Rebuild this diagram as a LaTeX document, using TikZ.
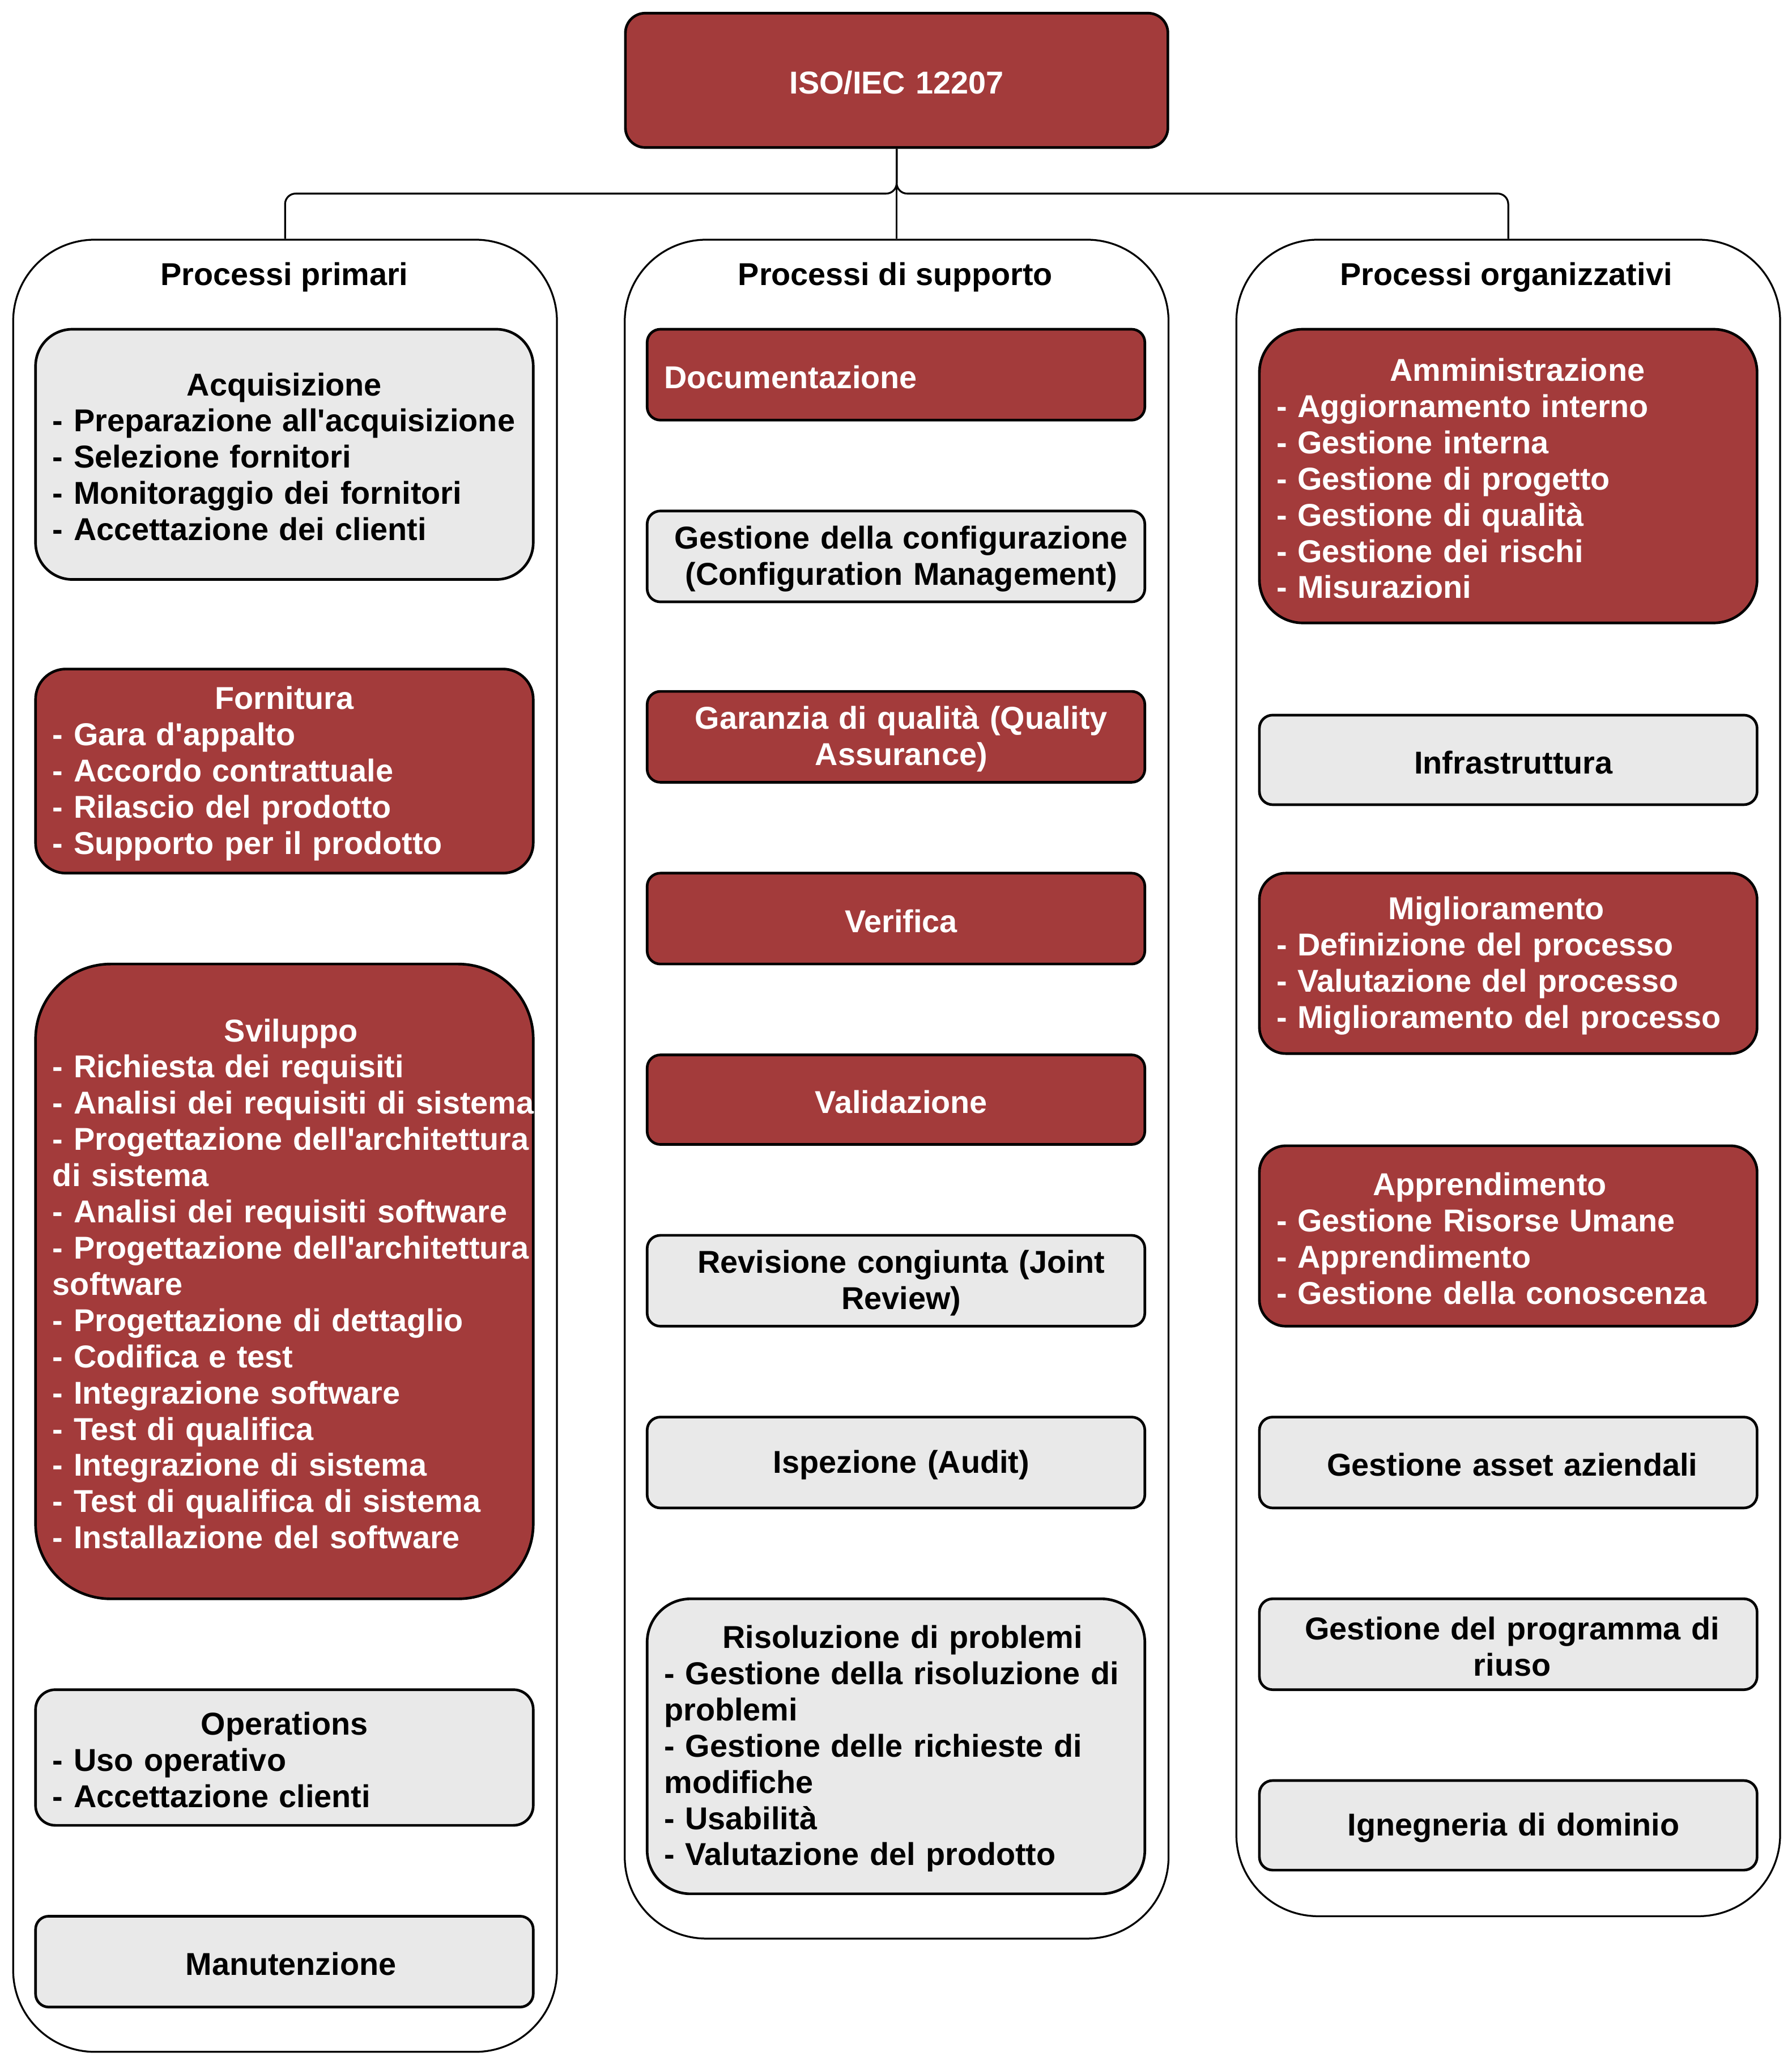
\documentclass[tikz,border=0pt]{standalone}
\usepackage{fontspec}
\setmainfont{Liberation Sans}
\definecolor{isored}{RGB}{163,59,59}
\definecolor{isogray}{RGB}{233,233,233}
\newcommand{\ttl}[2][0pt]{\makebox[\linewidth]{\hspace*{#1}#2\hspace*{-#1}}}
\newcommand{\q}{\textquotesingle}
\begin{document}
\begin{tikzpicture}[x=1pt,y=-1pt,
  every node/.style={font=\fontsize{24}{27.5}\selectfont\bfseries},
  cont/.style={draw, line width=1.4pt, fill=white, rounded corners=62pt, minimum width=413pt, inner sep=0pt},
  bx/.style={draw, line width=2pt, text width=352pt, inner xsep=13pt, inner ysep=0pt,
    execute at begin node={\rule{0pt}{21pt}}},
  rbx/.style={bx, fill=isored, text=white},
  gbx/.style={bx, fill=isogray, text=black},
  hd/.style={inner sep=0pt},
  conn/.style={draw, line width=1.4pt, rounded corners=8pt}
]
\useasboundingbox (0,0) rectangle (1361,1568);

% containers
\node[cont, minimum height=1376pt] (prim) at (216.5,870) {};
\node[cont, minimum height=1290pt] (sup) at (681,827) {};
\node[cont, minimum height=1273pt] (org) at (1145.5,818.5) {};
\node[hd] (primT) at (216,210.5) {Processi primari};
\node[hd] (supT) at (680,210.5) {Processi di supporto};
\node[hd] (orgT) at (1144,210.5) {Processi organizzativi};

% title
\node[rbx, text width=386pt, minimum height=102pt, rounded corners=15pt, align=center] (iso) at (681,61) {ISO/IEC 12207};

% left column
\node[gbx, align=left, minimum height=190pt, rounded corners=28pt] (acq) at (216,345) {\ttl{Acquisizione}\\
\mbox{- Preparazione all\q acquisizione}\\
\mbox{- Selezione fornitori}\\
\mbox{- Monitoraggio dei fornitori}\\
\mbox{- Accettazione dei clienti}};
\node[rbx, align=left, minimum height=155pt, rounded corners=23pt] (forn) at (216,585.5) {\ttl{Fornitura}\\
\mbox{- Gara d\q appalto}\\
\mbox{- Accordo contrattuale}\\
\mbox{- Rilascio del prodotto}\\
\mbox{- Supporto per il prodotto}};
\node[rbx, align=left, minimum height=482pt, rounded corners=57pt] (svil) at (216,973) {\ttl[5pt]{Sviluppo}\\
\mbox{- Richiesta dei requisiti}\\
\mbox{- Analisi dei requisiti di sistema}\\
\mbox{- Progettazione dell\q architettura}\\
\mbox{di sistema}\\
\mbox{- Analisi dei requisiti software}\\
\mbox{- Progettazione dell\q architettura}\\
\mbox{software}\\
\mbox{- Progettazione di dettaglio}\\
\mbox{- Codifica e test}\\
\mbox{- Integrazione software}\\
\mbox{- Test di qualifica}\\
\mbox{- Integrazione di sistema}\\
\mbox{- Test di qualifica di sistema}\\
\mbox{- Installazione del software}};
\node[gbx, align=left, minimum height=103pt, rounded corners=15pt] (oper) at (216,1334.5) {\ttl{Operations}\\
\mbox{- Uso operativo}\\
\mbox{- Accettazione clienti}};
\node[gbx, align=center, minimum height=69pt, rounded corners=10pt] (manut) at (216,1489.5) {\ttl[5pt]{Manutenzione}};

% middle column
\node[rbx, align=left, minimum height=69pt, rounded corners=10pt] (doc) at (680.5,284.5) {Documentazione};
\node[gbx, align=center, minimum height=69pt, rounded corners=10pt] (conf) at (680.5,422.5) {\ttl[4pt]{Gestione della configurazione}\\\ttl[4pt]{(Configuration Management)}};
\node[rbx, align=center, minimum height=69pt, rounded corners=10pt] (qa) at (680.5,559.5) {\ttl[4pt]{Garanzia di qualità (Quality}\\\ttl[4pt]{Assurance)}};
\node[rbx, align=center, minimum height=69pt, rounded corners=10pt] (ver) at (680.5,697.5) {\ttl[4pt]{Verifica}};
\node[rbx, align=center, minimum height=68pt, rounded corners=10pt] (val) at (680.5,835) {\ttl[4pt]{Validazione}};
\node[gbx, align=center, minimum height=69pt, rounded corners=10pt] (rev) at (680.5,972.5) {\ttl[4pt]{Revisione congiunta (Joint}\\\ttl[4pt]{Review)}};
\node[gbx, align=center, minimum height=69pt, rounded corners=10pt] (isp) at (680.5,1110.5) {\ttl[4pt]{Ispezione (Audit)}};
\node[gbx, align=left, minimum height=224pt, rounded corners=33pt] (ris) at (680.5,1326) {\ttl[5pt]{Risoluzione di problemi}\\
\mbox{- Gestione della risoluzione di}\\
\mbox{problemi}\\
\mbox{- Gestione delle richieste di}\\
\mbox{modifiche}\\
\mbox{- Usabilità}\\
\mbox{- Valutazione del prodotto}};

% right column
\node[rbx, align=left, minimum height=223pt, rounded corners=33pt] (amm) at (1145.5,361.5) {\ttl[7pt]{Amministrazione}\\
\mbox{- Aggiornamento interno}\\
\mbox{- Gestione interna}\\
\mbox{- Gestione di progetto}\\
\mbox{- Gestione di qualità}\\
\mbox{- Gestione dei rischi}\\
\mbox{- Misurazioni}};
\node[gbx, align=center, minimum height=68pt, rounded corners=10pt] (infra) at (1145.5,577) {\ttl[4pt]{Infrastruttura}};
\node[rbx, align=left, minimum height=137pt, rounded corners=20pt] (migl) at (1145.5,731.5) {\ttl[-9pt]{Miglioramento}\\
\mbox{- Definizione del processo}\\
\mbox{- Valutazione del processo}\\
\mbox{- Miglioramento del processo}};
\node[rbx, align=left, minimum height=137pt, rounded corners=20pt] (appr) at (1145.5,938.5) {\ttl[-14pt]{Apprendimento}\\
\mbox{- Gestione Risorse Umane}\\
\mbox{- Apprendimento}\\
\mbox{- Gestione della conoscenza}};
\node[gbx, align=center, minimum height=69pt, rounded corners=10pt] (asset) at (1145.5,1110.5) {\ttl[3pt]{Gestione asset aziendali}};
\node[gbx, align=center, minimum height=69pt, rounded corners=10pt] (riuso) at (1145.5,1248.5) {\ttl[3pt]{Gestione del programma di}\\\ttl[3pt]{riuso}};
\node[gbx, align=center, minimum height=68pt, rounded corners=10pt] (ign) at (1145.5,1386) {\ttl[4pt]{Ignegneria di dominio}};

% connectors
\coordinate (jn) at (681,147);
\draw[conn] (iso.south) -- (jn) -| (prim.north);
\draw[conn] (iso.south) -- (jn) -| (org.north);
\draw[conn] (iso.south) -- (sup.north);
\end{tikzpicture}
\end{document}
